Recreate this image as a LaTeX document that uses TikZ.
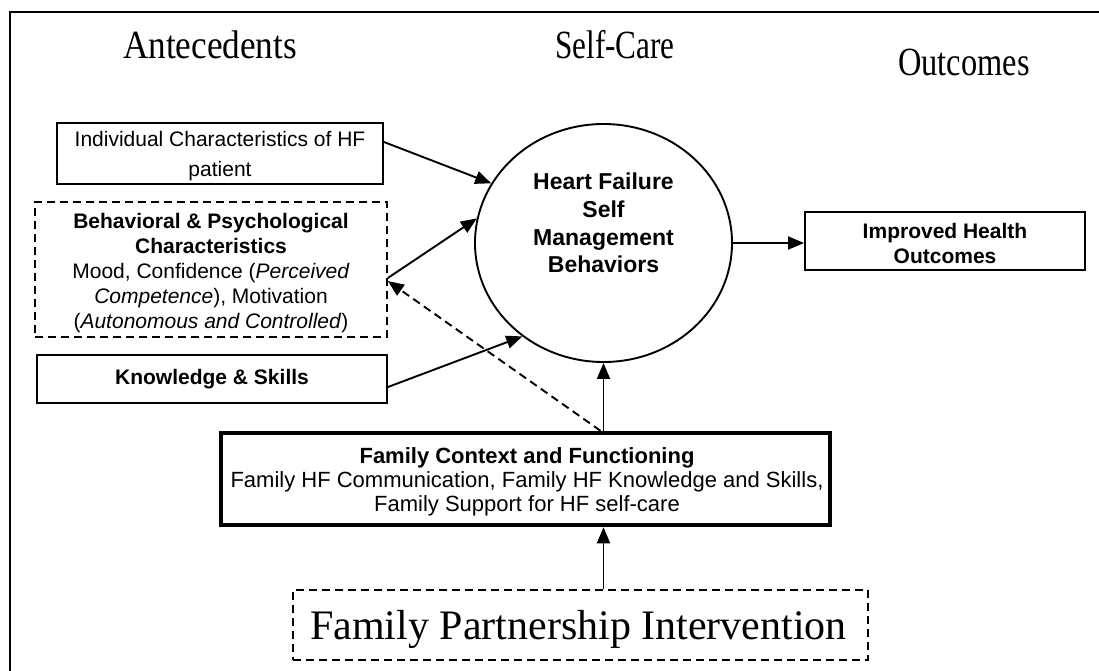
\documentclass[tikz,border=0pt]{standalone}
\usepackage{fontspec}
\setmainfont{Liberation Sans}
\newfontfamily\timesfont{Liberation Serif}
\usetikzlibrary{arrows.meta,shapes.geometric,calc}
\begin{document}
\begin{tikzpicture}[x=1pt,y=-1pt,
  box/.style={draw,line width=1.9pt,rectangle,inner sep=0pt,align=center},
  dbox/.style={box,line width=1.7pt,dash pattern=on 8pt off 5pt},
  txt/.style={inner sep=0pt,align=center},
  conn/.style={line width=1.9pt,-{Triangle[length=16pt,width=13pt]}},
  dconn/.style={conn,dash pattern=on 8pt off 5pt},
  sz/.style={font=\fontsize{21}{25}\selectfont},
  title/.style={font=\timesfont\fontsize{40}{44}\selectfont}]
\useasboundingbox (0,0) rectangle (1099,670);
\fill[white] (0,0) rectangle (1099,670);
\draw[line width=1.6pt] (10,700) -- (10,12) -- (1120,12);

\node[title] (tA) at (210,45) {\scalebox{0.88}[1]{Antecedents}};
\node[title] (tS) at (615,45) {\scalebox{0.78}[1]{Self-Care}};
\node[title] (tO) at (964,62) {\scalebox{0.81}[1]{Outcomes}};

\node[box,minimum width=326pt,minimum height=61pt] (ind) at (220,153.5) {};
\node[txt,font=\fontsize{21}{29.5}\selectfont] (indtxt) at (220,156) {Individual Characteristics of HF\\patient};
\node[dbox,minimum width=352pt,minimum height=135pt] (beh) at (211,269.5) {};
\node[txt,font=\fontsize{21}{25.2}\selectfont] (behtxt) at (211,273) {\textbf{Behavioral \& Psychological}\\\textbf{Characteristics}\\Mood, Confidence (\textit{Perceived}\\\textit{Competence}), Motivation\\(\textit{Autonomous and Controlled})};
\node[box,minimum width=350pt,minimum height=48pt,font=\fontsize{21}{25}\selectfont\bfseries] (know) at (212,379) {Knowledge \& Skills};
\node[draw,ellipse,line width=1.9pt,minimum width=257pt,minimum height=238pt,inner sep=0pt] (hf) at (603.5,243) {};
\node[txt,font=\fontsize{23}{27.6}\selectfont\bfseries] (hflabel) at (603.5,223) {Heart Failure\\Self\\Management\\Behaviors};
\node[box,minimum width=280pt,minimum height=58pt] (out) at (945,241) {};
\node[txt,font=\fontsize{21}{25}\selectfont\bfseries] (outtxt) at (945,243) {Improved Health\\Outcomes};
\node[box,line width=4.5pt,minimum width=609pt,minimum height=92pt] (fam) at (525.5,479) {};
\node[txt,font=\fontsize{22}{24}\selectfont] (famtxt) at (527,482) {\textbf{Family Context and Functioning}\\Family HF Communication, Family HF Knowledge and Skills,\\Family Support for HF self-care};
\node[dbox,minimum width=575pt,minimum height=70pt] (int) at (580.5,625) {};
\node[txt,font=\timesfont\fontsize{42}{46}\selectfont] (inttxt) at (578.5,629) {Family Partnership Intervention};

\coordinate (famtop) at (fam.north -| hf.south);
\coordinate (fambot) at (fam.south -| hf.south);
\coordinate (inttop) at (int.north -| hf.south);

\draw[conn] ([yshift=11.5pt]ind.east) -- (hf.152);
\draw[conn] ([yshift=-8.5pt]beh.east) -- (hf.169);
\draw[conn] ([yshift=-8pt]know.east) -- (hf.229);
\draw[conn] (hf.east) -- (hf.east -| out.west);
\draw[conn] (famtop) -- (hf.south);
\draw[dconn] ([xshift=-3pt]famtop) -- ([yshift=-11.5pt]beh.east);
\draw[conn] (inttop) -- (fambot);
\end{tikzpicture}
\end{document}
